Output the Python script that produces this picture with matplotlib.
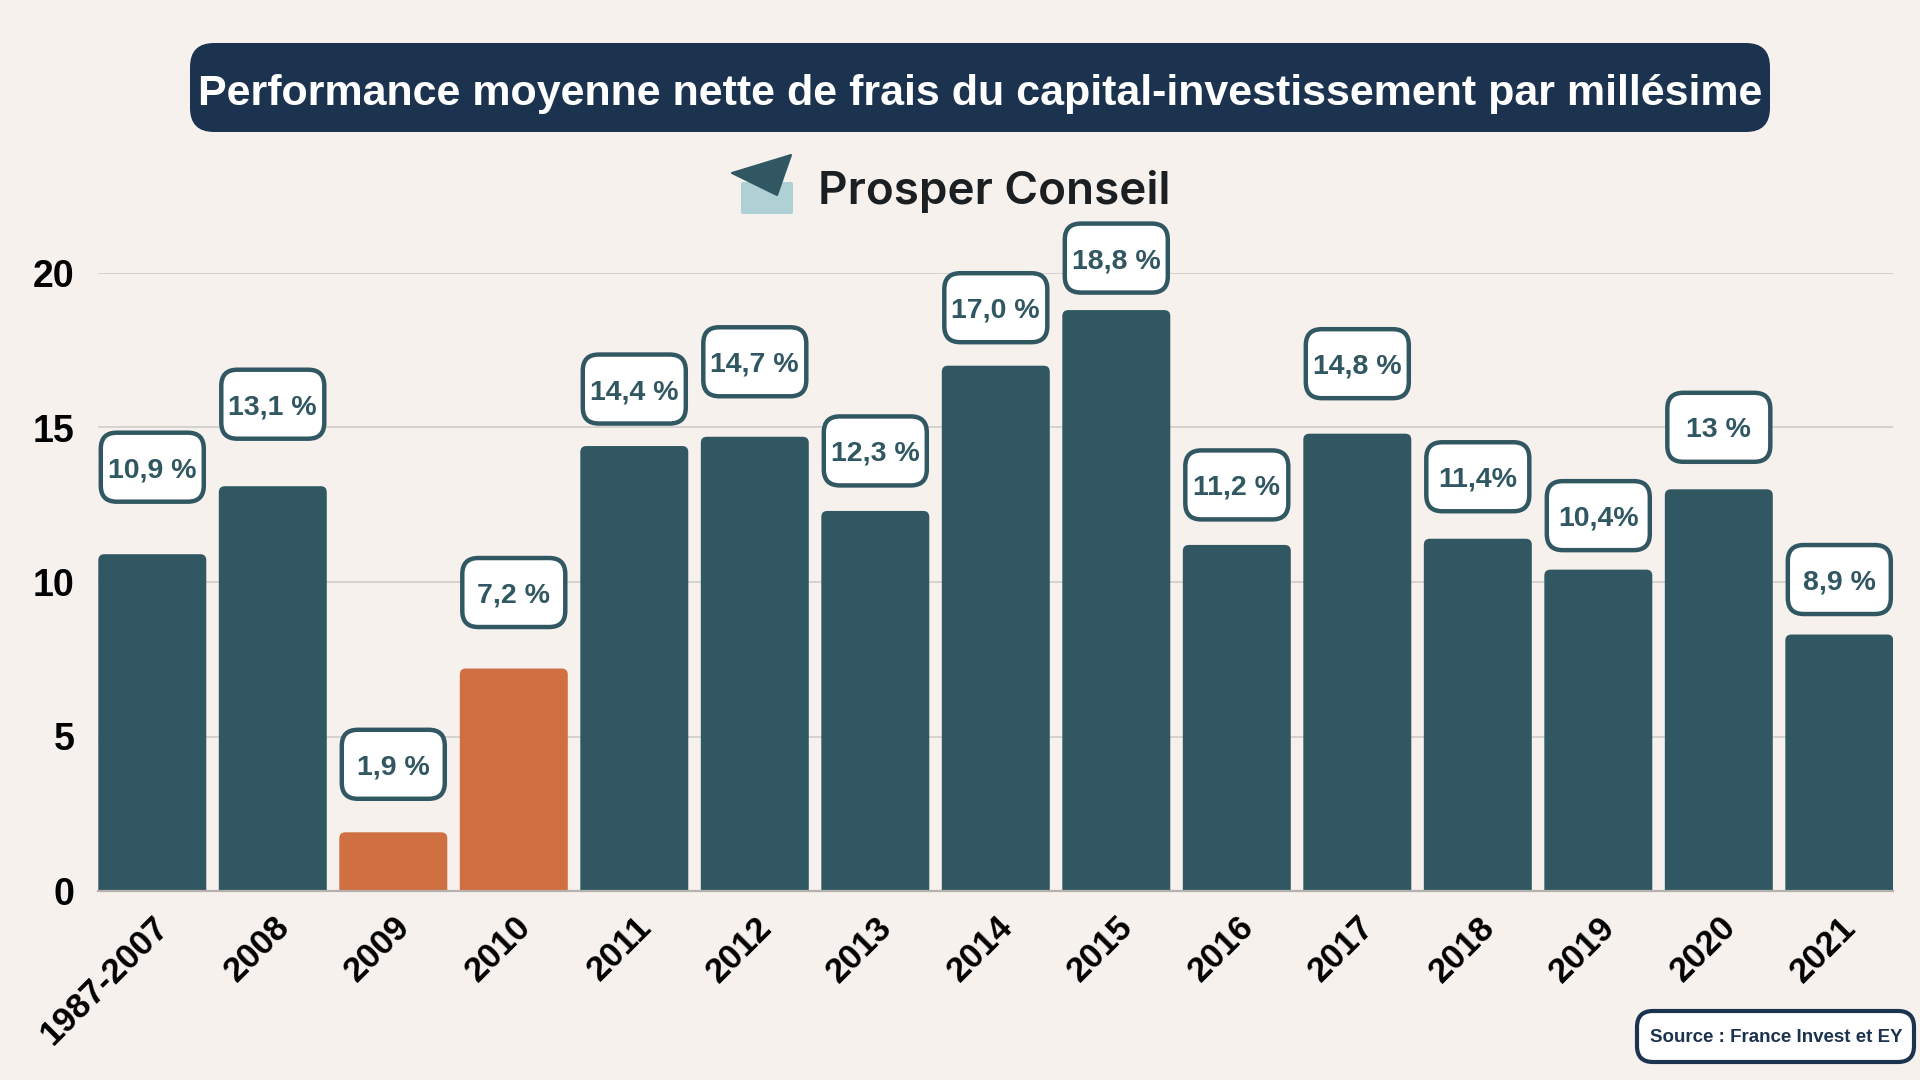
import matplotlib
matplotlib.use("Agg")
import matplotlib.pyplot as plt
from matplotlib.patches import FancyBboxPatch, Polygon
from matplotlib.transforms import IdentityTransform

plt.rcParams["font.family"] = ["Liberation Sans", "DejaVu Sans"]

# données
millesimes = ["1987-2007", "2008", "2009", "2010", "2011", "2012", "2013", "2014",
              "2015", "2016", "2017", "2018", "2019", "2020", "2021"]
performance = [10.9, 13.1, 1.9, 7.2, 14.4, 14.7, 12.3, 17.0, 18.8, 11.2, 14.8, 11.4, 10.4, 13.0, 8.3]
etiquettes = ["10,9 %", "13,1 %", "1,9 %", "7,2 %", "14,4 %", "14,7 %", "12,3 %", "17,0 %",
              "18,8 %", "11,2 %", "14,8 %", "11,4%", "10,4%", "13 %", "8,9 %"]
crise = ["2009", "2010"]

# décalage vertical des étiquettes au-dessus des barres (pixels)
LABEL_DY = [87, 82, 68, 76, 57, 75, 60, 58, 52, 60, 70, 62, 54, 62, 55]

BG = "#f6f1ed"
TEAL = "#315862"
ORANGE = "#d06f42"
NAVY = "#1c3350"
GRID = "#d3cfca"

W, H = 1920, 1080
fig = plt.figure(figsize=(W / 100, H / 100), dpi=100, facecolor=BG)
ax = fig.add_axes([98.3 / W, (H - 891) / H, 1795 / W, (891 - 273) / H])
ax.set_facecolor(BG)

couleurs = [ORANGE if m in crise else TEAL for m in millesimes]
x = list(range(len(millesimes)))
barres = ax.bar(x, performance, width=0.896, color=couleurs, zorder=3)

# coins supérieurs légèrement arrondis (le bas est masqué sous l'axe)
for b in barres:
    x0, y0 = b.get_x(), b.get_y()
    w, h = b.get_width(), b.get_height()
    b.set_visible(False)
    ax.add_patch(FancyBboxPatch((x0, y0 - 1), w, h + 1,
                                boxstyle="round,pad=0,rounding_size=0.05",
                                mutation_aspect=3.9, facecolor=b.get_facecolor(),
                                edgecolor="none", zorder=3))

ax.set_xlim(-0.448, len(millesimes) - 1 + 0.448)
ax.set_ylim(0, 20)
ax.set_yticks([0, 5, 10, 15, 20])
ax.yaxis.grid(True, color=GRID, linewidth=1.3, zorder=0)
for s in ["top", "right", "left"]:
    ax.spines[s].set_visible(False)
ax.spines["bottom"].set_color("#b5b1ac")
ax.spines["bottom"].set_linewidth(1.6)
ax.spines["bottom"].set_zorder(4)
ax.tick_params(axis="both", length=0)
ax.tick_params(axis="y", pad=17)
ax.tick_params(axis="x", pad=14)
for lab in ax.get_yticklabels():
    lab.set_fontsize(27)
    lab.set_fontweight("bold")
ax.set_xticks(x)
ax.set_xticklabels(millesimes, rotation=45, ha="right", va="top",
                   rotation_mode="anchor", fontsize=25, fontweight="bold")

# étiquettes en boîtes arrondies
ident = IdentityTransform()
bw, bh = 103, 69
for i, (v, t) in enumerate(zip(performance, etiquettes)):
    px, py = ax.transData.transform((i, v))
    cy = py + LABEL_DY[i]
    box = FancyBboxPatch((px - bw / 2, cy - bh / 2), bw, bh,
                         boxstyle="round,pad=0,rounding_size=16",
                         facecolor="white", edgecolor=TEAL, linewidth=3.2,
                         transform=ident, zorder=5)
    fig.patches.append(box)
    fig.text(px, cy, t, transform=ident, ha="center", va="center_baseline",
             fontsize=20.5, fontweight="bold", color=TEAL, zorder=6)

# titre
fig.patches.append(FancyBboxPatch((190, H - 132), 1580, 89,
                                  boxstyle="round,pad=0,rounding_size=24",
                                  facecolor=NAVY, edgecolor="none", transform=ident))
fig.text(980, H - 89, "Performance moyenne nette de frais du capital-investissement par millésime",
         transform=ident, ha="center", va="center_baseline", fontsize=31,
         fontweight="bold", color="white")

# logo
fig.patches.append(FancyBboxPatch((741, H - 214), 52, 32,
                                  boxstyle="round,pad=0,rounding_size=2",
                                  facecolor="#afd0d5", edgecolor="none", transform=ident))
fig.patches.append(Polygon([(732, H - 173), (791, H - 155), (777, H - 195)],
                           closed=True, facecolor=TEAL, edgecolor=TEAL,
                           linewidth=1.5, joinstyle="round", transform=ident))
fig.text(818, H - 187, "Prosper Conseil", transform=ident, ha="left",
         va="center_baseline", fontsize=33, family=["Inter", "DejaVu Sans"],
         fontweight="semibold", color="#1b1f22")

# source
fig.patches.append(FancyBboxPatch((1637, H - 1062), 277, 51,
                                  boxstyle="round,pad=0,rounding_size=16",
                                  facecolor="white", edgecolor=NAVY, linewidth=3,
                                  transform=ident))
fig.text(1776, H - 1036, "Source : France Invest et EY", transform=ident,
         ha="center", va="center_baseline", fontsize=13.5, fontweight="bold", color=NAVY)

fig.savefig("out.png", dpi=100, facecolor=BG)
